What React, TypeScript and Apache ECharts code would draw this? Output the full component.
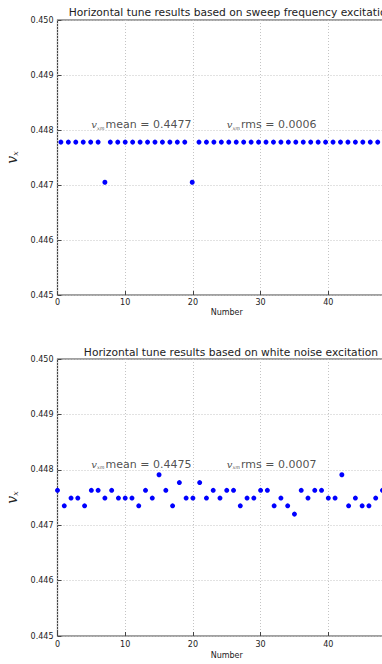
import React, { useEffect, useRef } from "react";
import * as echarts from "echarts";

const titles = [
  "Horizontal tune results based on sweep frequency excitation",
  "Horizontal tune results based on white noise excitation",
];
const xName = "Number";
const meanTexts = ["mean = 0.4477", "mean = 0.4475"];
const rmsTexts = ["rms = 0.0006", "rms = 0.0007"];
const annotX = [5, 25];
const annotY = 0.448;

const topX = [
  0.5, 1.6, 2.7, 3.8, 4.9, 6.0, 7.0, 7.8, 8.9, 10.0, 11.1, 12.2, 13.3, 14.4, 15.5,
  16.6, 17.7, 18.8, 19.9, 20.9, 22.0, 23.1, 24.2, 25.3, 26.4, 27.5, 28.6, 29.7,
  30.8, 31.9, 33.0, 34.1, 35.2, 36.3, 37.4, 38.5, 39.6, 40.7, 41.8, 42.9, 44.0,
  45.1, 46.2, 47.3,
];
const topY = [
  0.44778, 0.44778, 0.44778, 0.44778, 0.44778, 0.44778, 0.44705, 0.44778,
  0.44778, 0.44778, 0.44778, 0.44778, 0.44778, 0.44778, 0.44778, 0.44778,
  0.44778, 0.44778, 0.44705, 0.44778, 0.44778, 0.44778, 0.44778, 0.44778,
  0.44778, 0.44778, 0.44778, 0.44778, 0.44778, 0.44778, 0.44778, 0.44778,
  0.44778, 0.44778, 0.44778, 0.44778, 0.44778, 0.44778, 0.44778, 0.44778,
  0.44778, 0.44778, 0.44778, 0.44778,
];

const bottomX = [
  0, 1, 2, 3, 4, 5, 6, 7, 8, 9, 10, 11, 12, 13, 14, 15, 16, 17, 18, 19, 20, 21,
  22, 23, 24, 25, 26, 27, 28, 29, 30, 31, 32, 33, 34, 35, 36, 37, 38, 39, 40, 41,
  42, 43, 44, 45, 46, 47, 48,
];
const bottomY = [
  0.44763, 0.44735, 0.44749, 0.44749, 0.44735, 0.44763, 0.44763, 0.44749,
  0.44763, 0.44749, 0.44749, 0.44749, 0.44735, 0.44763, 0.44749, 0.44791,
  0.44763, 0.44735, 0.44777, 0.44749, 0.44749, 0.44777, 0.44749, 0.44763,
  0.44749, 0.44763, 0.44763, 0.44735, 0.44749, 0.44749, 0.44763, 0.44763,
  0.44735, 0.44749, 0.44735, 0.4472, 0.44763, 0.44749, 0.44763, 0.44763,
  0.44749, 0.44749, 0.44791, 0.44735, 0.44749, 0.44735, 0.44735, 0.44749,
  0.44763,
];

const FONT = "DejaVu Sans";
const TEXT = "#222";
const FRAME = "#444";

function zip(xs: number[], ys: number[]) {
  return xs.map((x, i) => [x, ys[i]]);
}

export default function App() {
  const ref = useRef<HTMLDivElement>(null);
  useEffect(() => {
    if (!ref.current) return;
    const chart = echarts.init(ref.current, undefined, { renderer: "svg" });
    const grids = [
      { left: 57.5, top: 20, width: 338.5, height: 275 },
      { left: 57.5, top: 359, width: 338.5, height: 277 },
    ];
    const labelMargins = [3, 4];
    const nameGaps = [13, 15];
    const rich = {
      v: { fontFamily: "DejaVu Serif", fontStyle: "italic", fontSize: 10, color: TEXT },
      s: { fontFamily: "DejaVu Serif", fontStyle: "italic", fontSize: 5, color: TEXT, verticalAlign: "bottom", padding: [6, 1, 0, 0] },
      t: { fontFamily: FONT, fontSize: 11, color: TEXT },
    };
    const annot = (gi: number) => ({
      type: "scatter",
      xAxisIndex: gi,
      yAxisIndex: gi,
      symbolSize: 0,
      silent: true,
      z: 5,
      data: [
        { value: [annotX[0], annotY], label: { formatter: `{v|v}{s|xm}{t|${meanTexts[gi]}}` } },
        { value: [annotX[1], annotY], label: { formatter: `{v|v}{s|xm}{t|${rmsTexts[gi]}}` } },
      ],
      label: {
        show: true,
        position: [0, 0],
        align: "left",
        verticalAlign: "bottom",
        rich,
      },
    });
    const xAxis = grids.map((_, i) => ({
      type: "value",
      gridIndex: i,
      min: 0,
      max: 50,
      interval: 10,
      name: xName,
      nameLocation: "middle",
      nameGap: nameGaps[i],
      nameTextStyle: { fontFamily: FONT, fontSize: 8, color: TEXT },
      axisLine: { show: false },
      axisTick: { show: true, inside: true, length: 4, lineStyle: { color: FRAME } },
      axisLabel: { fontFamily: FONT, fontSize: 8, color: TEXT, margin: labelMargins[i], showMaxLabel: false },
      splitLine: { show: true, lineStyle: { color: "#c4c4c4", type: [1, 2], width: 1 } },
    }));
    const yAxis = grids.map((_, i) => ({
      type: "value",
      gridIndex: i,
      min: 0.445,
      max: 0.45,
      interval: 0.001,
      name: "{v|v}{s|x}",
      nameLocation: "middle",
      nameRotate: 90,
      nameGap: 29,
      nameTextStyle: {
        rich: {
          v: { fontFamily: "DejaVu Serif", fontStyle: "italic", fontSize: 14, color: TEXT },
          s: { fontFamily: "DejaVu Serif", fontStyle: "italic", fontSize: 8, color: TEXT, verticalAlign: "bottom", padding: [8, 0, 0, 0] },
        },
      },
      axisLine: { show: false },
      axisTick: { show: true, inside: true, length: 4, lineStyle: { color: FRAME } },
      axisLabel: {
        fontFamily: FONT,
        fontSize: 8,
        color: TEXT,
        margin: 4,
        formatter: (v: number) => v.toFixed(3),
      },
      splitLine: { show: true, lineStyle: { color: "#c4c4c4", type: [1, 2], width: 1 } },
    }));
    chart.setOption({
      animation: false,
      backgroundColor: "#fff",
      title: [
        { text: titles[0], left: 226, top: 2, textAlign: "center", textStyle: { fontFamily: FONT, fontSize: 10.7, fontWeight: "normal", color: TEXT } },
        { text: titles[1], left: 226, top: 342, textAlign: "center", textStyle: { fontFamily: FONT, fontSize: 10.7, fontWeight: "normal", color: TEXT } },
      ],
      grid: grids.map((g) => ({
        ...g,
        show: true,
        borderColor: FRAME,
        borderWidth: 1.2,
        backgroundColor: "transparent",
        containLabel: false,
        outerBoundsMode: "none",
      })),
      xAxis,
      yAxis,
      series: [
        {
          type: "scatter",
          xAxisIndex: 0,
          yAxisIndex: 0,
          symbolSize: 5,
          itemStyle: { color: "#0000ff", opacity: 1 },
          data: zip(topX, topY),
          z: 3,
        },
        {
          type: "scatter",
          xAxisIndex: 1,
          yAxisIndex: 1,
          symbolSize: 5,
          itemStyle: { color: "#0000ff", opacity: 1 },
          data: zip(bottomX, bottomY),
          z: 3,
        },
        annot(0),
        annot(1),
      ],
    });
    return () => chart.dispose();
  }, []);
  return (
    <div
      ref={ref}
      style={{ position: "absolute", left: 0, top: 0, width: 382, height: 664, background: "#fff" }}
    />
  );
}
